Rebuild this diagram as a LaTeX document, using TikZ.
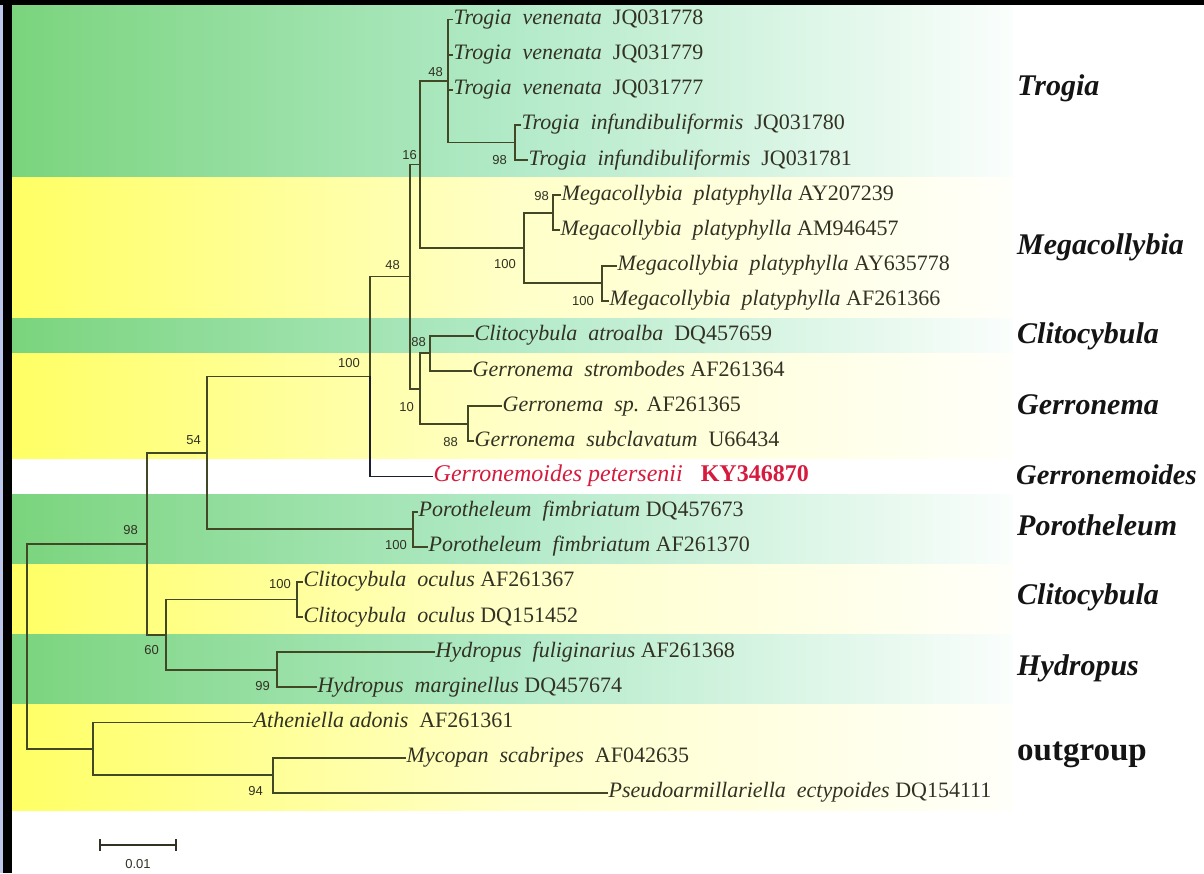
\documentclass[tikz,border=0pt]{standalone}
\usepackage{fontspec}
\setmainfont{Liberation Serif}
\newfontfamily\bsfont{Liberation Sans}
\definecolor{gL}{RGB}{122,212,125}
\definecolor{gM}{RGB}{178,234,200}
\definecolor{gR}{RGB}{250,254,252}
\definecolor{yL}{RGB}{255,255,100}
\definecolor{yM}{RGB}{255,255,200}
\definecolor{yR}{RGB}{255,255,250}
\definecolor{brc}{RGB}{66,72,38}
\definecolor{gmc}{RGB}{30,30,50}
\definecolor{txc}{RGB}{50,50,36}
\definecolor{grc}{RGB}{20,20,20}
\definecolor{redc}{RGB}{214,28,62}
\definecolor{edgec}{RGB}{190,200,235}
\newcommand\rowy[1]{(19.5+35.15*(#1))}
\newcommand\gap{\hspace{0.5em}}
\begin{document}
\begin{tikzpicture}[x=1pt,y=-1pt,
  br/.style={draw=brc, line width=1.9pt, line cap=rect},
  taxon/.style={anchor=west, inner sep=1.5pt, text=txc, font=\fontsize{22}{24}\selectfont, text height=15pt, text depth=5pt},
  bs/.style={anchor=east, inner sep=0pt, text=txc, font=\bsfont\fontsize{13}{14}\selectfont},
  grp/.style={anchor=west, inner sep=0pt, text=grc, font=\fontsize{30}{32}\selectfont\bfseries\itshape},
  greenband/.style={left color=gL, right color=gR, middle color=gM},
  yellowband/.style={left color=yL, right color=yR, middle color=yM},
  ]
\useasboundingbox (0,0) rectangle (1204,873);
\fill[white] (0,0) rectangle (1204,873);
% bands
\shade[greenband] (12,5) rectangle (1012,{\rowy{4.5}});
\shade[yellowband] (12,{\rowy{4.5}}) rectangle (1012,{\rowy{8.5}});
\shade[greenband] (12,{\rowy{8.5}}) rectangle (1012,{\rowy{9.5}});
\shade[yellowband] (12,{\rowy{9.5}}) rectangle (1012,{\rowy{12.5}});
\shade[greenband] (12,{\rowy{13.5}}) rectangle (1012,{\rowy{15.5}});
\shade[yellowband] (12,{\rowy{15.5}}) rectangle (1012,{\rowy{17.5}});
\shade[greenband] (12,{\rowy{17.5}}) rectangle (1012,{\rowy{19.5}});
\shade[yellowband] (12,{\rowy{19.5}}) rectangle (1012,{\rowy{22.5}});
% frame
\fill[edgec] (0,0) rectangle (3,873);
\fill[black] (0,0) rectangle (1204,5);
\fill[black] (3,0) rectangle (12,873);
% internal nodes
\coordinate (nTi) at (515,{\rowy{3.5}});
\coordinate (nTv) at (448,{\rowy{1.75}});
\coordinate (nM1) at (553,{\rowy{5.5}});
\coordinate (nM2) at (602,{\rowy{7.5}});
\coordinate (nM) at (524,{\rowy{6.5}});
\coordinate (n16) at (420,{\rowy{4.125}});
\coordinate (nA) at (430,{\rowy{9.5}});
\coordinate (nB) at (468,{\rowy{11.5}});
\coordinate (nC) at (420,{\rowy{10.5}});
\coordinate (n48) at (410,{\rowy{7.3125}});
\coordinate (n100) at (370,{\rowy{10.15625}});
\coordinate (nP) at (413,{\rowy{14.5}});
\coordinate (n54) at (207,{\rowy{12.328}});
\coordinate (nCo) at (297,{\rowy{16.5}});
\coordinate (nH) at (277,{\rowy{18.5}});
\coordinate (n60) at (166,{\rowy{17.5}});
\coordinate (n98) at (147,{\rowy{14.914}});
\coordinate (nO2) at (273,{\rowy{21.5}});
\coordinate (nO) at (93,{\rowy{20.75}});
\coordinate (root) at (27,{\rowy{17.832}});
% taxa
\node[taxon] (t0) at (452,{\rowy{0}}) {\textit{Trogia\gap venenata}\gap JQ031778};
\node[taxon] (t1) at (452,{\rowy{1}}) {\textit{Trogia\gap venenata}\gap JQ031779};
\node[taxon] (t2) at (452,{\rowy{2}}) {\textit{Trogia\gap venenata}\gap JQ031777};
\node[taxon] (t3) at (520,{\rowy{3}}) {\textit{Trogia\gap infundibuliformis}\gap JQ031780};
\node[taxon] (t4) at (527,{\rowy{4}}) {\textit{Trogia\gap infundibuliformis}\gap JQ031781};
\node[taxon] (t5) at (560,{\rowy{5}}) {\textit{Megacollybia\gap platyphylla} AY207239};
\node[taxon] (t6) at (559,{\rowy{6}}) {\textit{Megacollybia\gap platyphylla} AM946457};
\node[taxon] (t7) at (616,{\rowy{7}}) {\textit{Megacollybia\gap platyphylla} AY635778};
\node[taxon] (t8) at (608,{\rowy{8}}) {\textit{Megacollybia\gap platyphylla} AF261366};
\node[taxon] (t9) at (473,{\rowy{9}}) {\textit{Clitocybula\gap atroalba}\gap DQ457659};
\node[taxon] (t10) at (471,{\rowy{10}}) {\textit{Gerronema\gap strombodes} AF261364};
\node[taxon] (t11) at (501,{\rowy{11}}) {\textit{Gerronema\gap sp.} AF261365};
\node[taxon] (t12) at (473,{\rowy{12}}) {\textit{Gerronema\gap subclavatum}\gap U66434};
\node[taxon, text=redc, font=\fontsize{24}{26}\selectfont] (t13) at (432,{\rowy{13}}) {\textit{Gerronemoides petersenii}\hspace{0.75em}\textbf{KY346870}};
\node[taxon] (t14) at (417,{\rowy{14}}) {\textit{Porotheleum\gap fimbriatum} DQ457673};
\node[taxon] (t15) at (427,{\rowy{15}}) {\textit{Porotheleum\gap fimbriatum} AF261370};
\node[taxon] (t16) at (302,{\rowy{16}}) {\textit{Clitocybula\gap oculus} AF261367};
\node[taxon] (t17) at (302,{\rowy{17}}) {\textit{Clitocybula\gap oculus} DQ151452};
\node[taxon] (t18) at (434,{\rowy{18}}) {\textit{Hydropus\gap fuliginarius} AF261368};
\node[taxon] (t19) at (316,{\rowy{19}}) {\textit{Hydropus\gap marginellus} DQ457674};
\node[taxon] (t20) at (252,{\rowy{20}}) {\textit{Atheniella adonis}\gap AF261361};
\node[taxon] (t21) at (405,{\rowy{21}}) {\textit{Mycopan\gap scabripes}\gap AF042635};
\node[taxon] (t22) at (607,{\rowy{22}}) {\textit{Pseudoarmillariella\gap ectypoides} DQ154111};
% branches
\foreach \p/\c in {nTv/t0.west, nTv/t1.west, nTv/t2.west, nTv/nTi, nTi/t3.west, nTi/t4.west,
  n16/nTv, n16/nM, nM/nM1, nM/nM2, nM1/t5.west, nM1/t6.west, nM2/t7.west, nM2/t8.west,
  n48/n16, n48/nC, nC/nA, nC/nB, nA/t9.west, nA/t10.west, nB/t11.west, nB/t12.west,
  n100/n48, n54/n100, n54/nP, nP/t14.west, nP/t15.west,
  n98/n54, n98/n60, n60/nCo, n60/nH, nCo/t16.west, nCo/t17.west, nH/t18.west, nH/t19.west,
  root/n98, root/nO, nO/t20.west, nO/nO2, nO2/t21.west, nO2/t22.west}
  \draw[br] (\p) |- (\c);
\draw[br, draw=gmc] (n100) |- (t13.west);
% bootstrap values
\node[bs] (b1) at (443,72) {48};
\node[bs] (b2) at (417,155) {16};
\node[bs] (b3) at (507,160) {98};
\node[bs] (b4) at (549,196) {98};
\node[bs] (b5) at (516,264) {100};
\node[bs] (b6) at (594,301) {100};
\node[bs] (b7) at (400,265) {48};
\node[bs] (b8) at (426,342) {88};
\node[bs] (b9) at (414,407) {10};
\node[bs] (b10) at (458,442) {88};
\node[bs] (b11) at (360,363) {100};
\node[bs] (b12) at (201,440) {54};
\node[bs] (b13) at (407,545) {100};
\node[bs] (b14) at (138,530) {98};
\node[bs] (b15) at (291,584) {100};
\node[bs] (b16) at (159,650) {60};
\node[bs] (b17) at (270,686) {99};
\node[bs] (b18) at (263,791) {94};
% group labels
\node[grp] (gT) at (1017,88) {Trogia};
\node[grp] (gM) at (1017,247) {Megacollybia};
\node[grp] (gC1) at (1017,336) {Clitocybula};
\node[grp] (gG) at (1017,405) {Gerronema};
\node[grp, font=\fontsize{28.5}{30}\selectfont\bfseries\itshape] (gGm) at (1016,475) {Gerronemoides};
\node[grp] (gP) at (1017,525) {Porotheleum};
\node[grp] (gC2) at (1017,597) {Clitocybula};
\node[grp] (gH) at (1017,668) {Hydropus};
\node[grp, font=\fontsize{33}{35}\selectfont\bfseries] (gO) at (1017,755) {outgroup};
% scale bar
\coordinate (sbL) at (100,845);
\coordinate (sbR) at (176,845);
\draw[draw=txc, line width=1.4pt] (sbL) -- (sbR);
\draw[draw=txc, line width=1.4pt] (sbL) ++(0,-6) -- ++(0,12);
\draw[draw=txc, line width=1.4pt] (sbR) ++(0,-6) -- ++(0,12);
\node[bs, anchor=center] (sbt) at (138,864) {0.01};
\end{tikzpicture}
\end{document}
